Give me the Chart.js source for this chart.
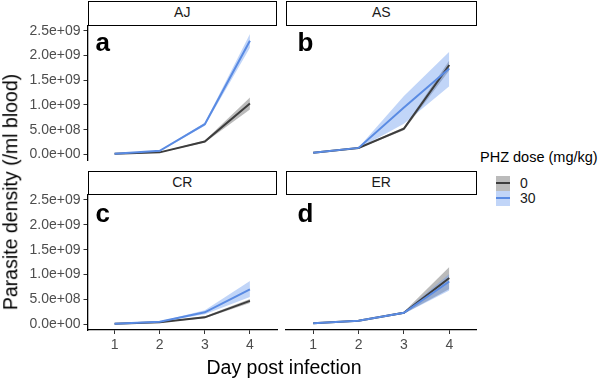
<!DOCTYPE html>
<html>
<head>
<meta charset="utf-8">
<script src="https://cdn.jsdelivr.net/npm/chart.js@4"></script>
<style>
  body { margin: 0; width: 598px; height: 382px; position: relative; background: #fff; overflow: hidden;
         font-family: "Liberation Sans", Arial, sans-serif; }
  canvas { position: absolute; }
  .strip { position: absolute; box-sizing: border-box; border: 1.5px solid #000; background: #fff;
           font-size: 14px; color: #1a1a1a; text-align: center; }
  .tag { position: absolute; font-weight: bold; font-size: 26px; line-height: 26px; color: #000; }
  .txt { position: absolute; white-space: nowrap; color: #000; }
  .key { position: absolute; width: 14px; height: 15px; }
  .key i { position: absolute; left: 0; right: 0; top: 6.5px; height: 2px; }
</style>
</head>
<body>
<div class="strip" style="left:87.5px;top:1px;width:189.5px;height:24.5px;line-height:21.5px">AJ</div>
<div class="strip" style="left:286px;top:1px;width:190.5px;height:24.5px;line-height:21.5px">AS</div>
<div class="strip" style="left:87.5px;top:170.5px;width:189.5px;height:24.5px;line-height:21.5px">CR</div>
<div class="strip" style="left:286px;top:170.5px;width:190.5px;height:24.5px;line-height:21.5px">ER</div>

<canvas id="pA" width="280" height="158" style="left:0;top:14px"></canvas>
<canvas id="pB" width="200" height="158" style="left:280px;top:14px"></canvas>
<canvas id="pC" width="280" height="196" style="left:0;top:183px"></canvas>
<canvas id="pD" width="200" height="196" style="left:280px;top:183px"></canvas>

<div class="tag" style="left:95.5px;top:28.5px">a</div>
<div class="tag" style="left:297.5px;top:28.5px">b</div>
<div class="tag" style="left:95.5px;top:200px">c</div>
<div class="tag" style="left:297.5px;top:200px">d</div>

<div class="txt" style="left:11px;top:192px;font-size:19.5px;line-height:19.5px;transform:translate(-50%,-50%) rotate(-90deg)">Parasite density (/ml blood)</div>
<div class="txt" style="left:284px;top:368px;font-size:19.5px;line-height:19.5px;transform:translate(-50%,-50%)">Day post infection</div>

<div class="txt" style="left:480px;top:150px;font-size:14.5px;line-height:15px">PHZ dose (mg/kg)</div>
<div class="key" style="left:496px;top:175.5px;background:rgba(60,60,60,0.35)"><i style="background:#3d3d3d"></i></div>
<div class="key" style="left:496px;top:190.5px;background:rgba(100,149,237,0.4)"><i style="background:#5a8be3"></i></div>
<div class="txt" style="left:520px;top:175.5px;font-size:14px;line-height:15px;color:#1a1a1a">0</div>
<div class="txt" style="left:520px;top:190.5px;font-size:14px;line-height:15px;color:#1a1a1a">30</div>

<script>
// days and axis ticks
const days = [1, 2, 3, 4];
const yTicks = [0, 5e8, 1e9, 1.5e9, 2e9, 2.5e9];
const yTickLabels = ["0.0e+00", "5.0e+08", "1.0e+09", "1.5e+09", "2.0e+09", "2.5e+09"];

// parasite density (/ml blood): mean, lower and upper band, per strain and PHZ dose
const ajDose0   = [0.010e9, 0.040e9, 0.26e9, 1.03e9];
const ajDose0Lo = [0.006e9, 0.032e9, 0.24e9, 0.91e9];
const ajDose0Hi = [0.014e9, 0.048e9, 0.28e9, 1.15e9];
const ajDose30   = [0.010e9, 0.070e9, 0.61e9, 2.30e9];
const ajDose30Lo = [0.006e9, 0.060e9, 0.58e9, 2.16e9];
const ajDose30Hi = [0.014e9, 0.080e9, 0.64e9, 2.44e9];

const asDose0   = [0.030e9, 0.13e9, 0.52e9, 1.81e9];
const asDose0Lo = [0.025e9, 0.12e9, 0.49e9, 1.70e9];
const asDose0Hi = [0.035e9, 0.14e9, 0.55e9, 1.90e9];
const asDose30   = [0.030e9, 0.13e9, 0.95e9, 1.74e9];
const asDose30Lo = [0.025e9, 0.12e9, 0.62e9, 1.38e9];
const asDose30Hi = [0.035e9, 0.14e9, 1.18e9, 2.08e9];

const crDose0   = [0.010e9, 0.040e9, 0.14e9, 0.47e9];
const crDose0Lo = [0.008e9, 0.035e9, 0.12e9, 0.43e9];
const crDose0Hi = [0.012e9, 0.045e9, 0.16e9, 0.51e9];
const crDose30   = [0.010e9, 0.050e9, 0.24e9, 0.70e9];
const crDose30Lo = [0.008e9, 0.045e9, 0.20e9, 0.55e9];
const crDose30Hi = [0.012e9, 0.055e9, 0.28e9, 0.87e9];

const erDose0   = [0.020e9, 0.070e9, 0.23e9, 0.93e9];
const erDose0Lo = [0.015e9, 0.065e9, 0.21e9, 0.71e9];
const erDose0Hi = [0.025e9, 0.075e9, 0.25e9, 1.15e9];
const erDose30   = [0.020e9, 0.070e9, 0.23e9, 0.86e9];
const erDose30Lo = [0.015e9, 0.065e9, 0.21e9, 0.68e9];
const erDose30Hi = [0.025e9, 0.075e9, 0.25e9, 1.01e9];

const blueLine = "#5a8be3", blueBand = "rgba(100,149,237,0.4)";
const grayLine = "#3d3d3d", grayBand = "rgba(60,60,60,0.35)";

Chart.defaults.font.family = '"Liberation Sans", Arial, sans-serif';
Chart.defaults.font.size = 14;
Chart.defaults.color = "#4d4d4d";

function pts(arr) {
  return arr.map((v, i) => ({ x: days[i], y: v }));
}

function drawPanel(id, d0, d0lo, d0hi, d30, d30lo, d30hi, showY, showX, pad) {
  const line = (data, color, order) => ({
    data: pts(data), borderColor: color, borderWidth: 2, pointRadius: 0, fill: false, order: order
  });
  const band = (data, color, fill, order) => ({
    data: pts(data), borderWidth: 0, borderColor: "transparent", backgroundColor: color,
    pointRadius: 0, fill: fill, order: order
  });
  new Chart(document.getElementById(id), {
    type: "line",
    data: {
      datasets: [
        line(d30, blueLine, 0),
        line(d0, grayLine, 1),
        band(d30hi, blueBand, "+1", 2),
        band(d30lo, blueBand, false, 2),
        band(d0hi, grayBand, "+1", 3),
        band(d0lo, grayBand, false, 3)
      ]
    },
    options: {
      responsive: false,
      animation: false,
      events: [],
      layout: { padding: pad },
      plugins: { legend: { display: false }, tooltip: { enabled: false } },
      scales: {
        x: {
          type: "linear", min: 0.4, max: 4.6, display: showX,
          afterBuildTicks: s => { s.ticks = days.map(v => ({ value: v })); },
          ticks: { padding: 3, autoSkip: false, maxRotation: 0, callback: v => String(v) },
          grid: { drawOnChartArea: false, tickLength: 4, color: "#333", lineWidth: 1 },
          border: { display: true, color: "#000", width: 1.3 },
          afterFit: s => { s.height = showX ? 49 : 0; }
        },
        y: {
          type: "linear", min: -0.115e9, max: 2.6e9, display: showY,
          afterBuildTicks: s => { s.ticks = yTicks.map(v => ({ value: v })); },
          ticks: { padding: 3, autoSkip: false, callback: v => yTickLabels[yTicks.indexOf(v)] },
          grid: { drawOnChartArea: false, tickLength: 4, color: "#333", lineWidth: 1 },
          border: { display: true, color: "#000", width: 1.3 },
          afterFit: s => { s.width = showY ? 87.5 : 0; }
        }
      }
    }
  });
}

drawPanel("pA", ajDose0, ajDose0Lo, ajDose0Hi, ajDose30, ajDose30Lo, ajDose30Hi, true, false,
  { top: 12, right: 3, bottom: 12, left: 0 });
drawPanel("pB", asDose0, asDose0Lo, asDose0Hi, asDose30, asDose30Lo, asDose30Hi, false, false,
  { top: 12, right: 3.5, bottom: 12, left: 6 });
drawPanel("pC", crDose0, crDose0Lo, crDose0Hi, crDose30, crDose30Lo, crDose30Hi, true, true,
  { top: 12, right: 3, bottom: 0, left: 0 });
drawPanel("pD", erDose0, erDose0Lo, erDose0Hi, erDose30, erDose30Lo, erDose30Hi, false, true,
  { top: 12, right: 3.5, bottom: 0, left: 6 });
</script>
</body>
</html>
